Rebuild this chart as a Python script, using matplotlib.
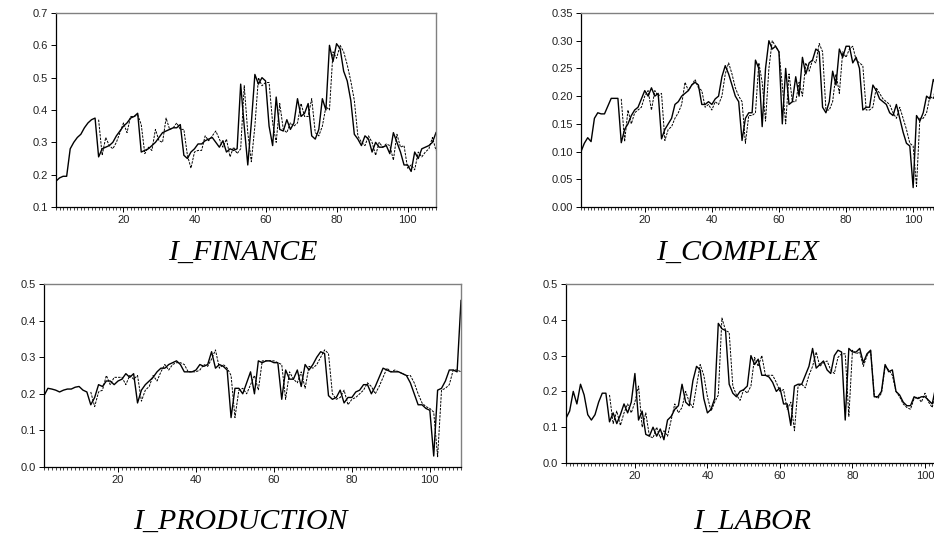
import numpy as np
import matplotlib
matplotlib.use("Agg")
from matplotlib import pyplot as plt
from matplotlib.ticker import MultipleLocator, FormatStrFormatter

plt.rcParams['font.family'] = ['Liberation Sans', 'DejaVu Sans']

nan = float("nan")
obs = list(range(1, 109))

# I_FINANCE
fin_actual = [0.18, 0.19, 0.195, 0.195, 0.28, 0.30, 0.315, 0.325, 0.345, 0.36, 0.37, 0.375,
              0.255, 0.28, 0.285, 0.29, 0.30, 0.32, 0.335, 0.35, 0.36, 0.375, 0.38, 0.39,
              0.27, 0.275, 0.28, 0.29, 0.30, 0.315, 0.33, 0.335, 0.34, 0.345, 0.345, 0.355,
              0.26, 0.25, 0.27, 0.28, 0.295, 0.295, 0.305, 0.31, 0.315, 0.30, 0.285, 0.305,
              0.27, 0.28, 0.275, 0.28, 0.48, 0.35, 0.23, 0.36, 0.51, 0.48, 0.50, 0.49,
              0.35, 0.29, 0.44, 0.34, 0.335, 0.37, 0.34, 0.36, 0.435, 0.38, 0.39, 0.42,
              0.32, 0.31, 0.34, 0.435, 0.40, 0.60, 0.55, 0.605, 0.59, 0.52, 0.49, 0.43,
              0.325, 0.31, 0.29, 0.32, 0.31, 0.27, 0.30, 0.285, 0.285, 0.29, 0.265, 0.33,
              0.30, 0.27, 0.23, 0.23, 0.21, 0.27, 0.25, 0.28, 0.285, 0.29, 0.30, 0.33]
fin_fitted = [nan] * 12 + [
              0.37, 0.26, 0.315, 0.29, 0.28, 0.30, 0.33, 0.36, 0.33, 0.38, 0.38, 0.385,
              0.355, 0.265, 0.285, 0.275, 0.34, 0.305, 0.30, 0.375, 0.34, 0.345, 0.36, 0.34,
              0.34, 0.26, 0.22, 0.27, 0.275, 0.275, 0.32, 0.305, 0.32, 0.335, 0.31, 0.285,
              0.31, 0.255, 0.285, 0.265, 0.28, 0.475, 0.33, 0.24, 0.35, 0.50, 0.475, 0.485,
              0.485, 0.36, 0.30, 0.42, 0.34, 0.33, 0.36, 0.35, 0.36, 0.42, 0.38, 0.38,
              0.435, 0.33, 0.32, 0.35, 0.41, 0.40, 0.58, 0.56, 0.60, 0.58, 0.54, 0.49,
              0.43, 0.32, 0.30, 0.29, 0.32, 0.30, 0.26, 0.30, 0.285, 0.295, 0.29, 0.245,
              0.325, 0.285, 0.29, 0.22, 0.23, 0.215, 0.27, 0.255, 0.27, 0.28, 0.315, 0.275]

# I_COMPLEX
com_actual = [0.10, 0.115, 0.125, 0.118, 0.16, 0.17, 0.168, 0.168, 0.182, 0.196, 0.196, 0.196,
              0.116, 0.14, 0.15, 0.165, 0.175, 0.18, 0.195, 0.21, 0.20, 0.215, 0.20, 0.205,
              0.123, 0.14, 0.15, 0.16, 0.185, 0.19, 0.20, 0.205, 0.21, 0.22, 0.225, 0.22,
              0.185, 0.185, 0.19, 0.185, 0.195, 0.20, 0.235, 0.255, 0.24, 0.22, 0.20, 0.19,
              0.12, 0.16, 0.17, 0.17, 0.265, 0.25, 0.145, 0.25, 0.30, 0.285, 0.29, 0.28,
              0.15, 0.25, 0.185, 0.19, 0.235, 0.20, 0.27, 0.24, 0.26, 0.265, 0.285, 0.28,
              0.18, 0.17, 0.19, 0.245, 0.22, 0.285, 0.27, 0.29, 0.29, 0.26, 0.27, 0.25,
              0.175, 0.18, 0.18, 0.22, 0.21, 0.195, 0.19, 0.185, 0.17, 0.165, 0.185, 0.16,
              0.135, 0.115, 0.11, 0.035, 0.165, 0.155, 0.17, 0.20, 0.195, 0.23, 0.22, 0.24]
com_fitted = [nan] * 12 + [
              0.195, 0.118, 0.175, 0.15, 0.17, 0.175, 0.18, 0.20, 0.21, 0.175, 0.21, 0.20,
              0.205, 0.12, 0.14, 0.145, 0.16, 0.17, 0.185, 0.225, 0.21, 0.22, 0.23, 0.215,
              0.21, 0.18, 0.185, 0.175, 0.19, 0.185, 0.20, 0.24, 0.26, 0.24, 0.215, 0.20,
              0.19, 0.115, 0.165, 0.165, 0.17, 0.26, 0.225, 0.155, 0.25, 0.30, 0.29, 0.28,
              0.22, 0.15, 0.24, 0.19, 0.19, 0.225, 0.20, 0.26, 0.245, 0.265, 0.26, 0.295,
              0.28, 0.175, 0.175, 0.19, 0.24, 0.205, 0.28, 0.27, 0.285, 0.29, 0.265, 0.26,
              0.255, 0.175, 0.175, 0.18, 0.215, 0.205, 0.195, 0.19, 0.185, 0.17, 0.16, 0.18,
              0.16, 0.14, 0.115, 0.11, 0.037, 0.16, 0.16, 0.17, 0.20, 0.195, 0.225, 0.22]

# I_PRODUCTION
pro_actual = [0.195, 0.215, 0.213, 0.21, 0.205, 0.21, 0.213, 0.213, 0.218, 0.22, 0.21, 0.205,
              0.17, 0.19, 0.225, 0.22, 0.235, 0.235, 0.225, 0.235, 0.24, 0.255, 0.245, 0.255,
              0.175, 0.21, 0.225, 0.235, 0.245, 0.26, 0.27, 0.27, 0.28, 0.285, 0.29, 0.28,
              0.26, 0.26, 0.26, 0.265, 0.28, 0.275, 0.28, 0.315, 0.27, 0.28, 0.275, 0.265,
              0.135, 0.215, 0.215, 0.20, 0.23, 0.26, 0.20, 0.29, 0.285, 0.29, 0.29, 0.285,
              0.285, 0.185, 0.265, 0.24, 0.24, 0.265, 0.22, 0.28, 0.265, 0.28, 0.30, 0.315,
              0.31, 0.195, 0.185, 0.19, 0.21, 0.175, 0.19, 0.19, 0.205, 0.21, 0.225, 0.225,
              0.20, 0.22, 0.245, 0.27, 0.265, 0.26, 0.26, 0.26, 0.255, 0.25, 0.23, 0.20,
              0.17, 0.17, 0.16, 0.155, 0.03, 0.21, 0.215, 0.235, 0.265, 0.265, 0.26, 0.455]
pro_fitted = [nan] * 12 + [
              0.205, 0.165, 0.205, 0.21, 0.25, 0.225, 0.245, 0.245, 0.245, 0.225, 0.25, 0.24,
              0.25, 0.18, 0.21, 0.22, 0.25, 0.235, 0.26, 0.28, 0.265, 0.28, 0.285, 0.285,
              0.28, 0.26, 0.26, 0.26, 0.265, 0.28, 0.275, 0.295, 0.32, 0.27, 0.28, 0.27,
              0.25, 0.135, 0.21, 0.215, 0.20, 0.225, 0.25, 0.21, 0.29, 0.29, 0.29, 0.29,
              0.285, 0.28, 0.185, 0.26, 0.24, 0.23, 0.26, 0.215, 0.275, 0.27, 0.28, 0.30,
              0.32, 0.31, 0.20, 0.185, 0.19, 0.21, 0.17, 0.185, 0.19, 0.20, 0.21, 0.23,
              0.22, 0.20, 0.22, 0.245, 0.27, 0.26, 0.265, 0.26, 0.255, 0.25, 0.25, 0.23,
              0.20, 0.175, 0.165, 0.16, 0.15, 0.028, 0.21, 0.215, 0.225, 0.265, 0.265, 0.26]

# I_LABOR
lab_actual = [0.125, 0.145, 0.20, 0.165, 0.22, 0.19, 0.135, 0.12, 0.135, 0.17, 0.195, 0.195,
              0.115, 0.14, 0.11, 0.135, 0.165, 0.14, 0.17, 0.25, 0.12, 0.145, 0.08, 0.075,
              0.10, 0.075, 0.095, 0.065, 0.12, 0.13, 0.15, 0.16, 0.22, 0.17, 0.16, 0.23,
              0.27, 0.26, 0.18, 0.14, 0.15, 0.18, 0.39, 0.375, 0.37, 0.22, 0.195, 0.185,
              0.20, 0.205, 0.215, 0.30, 0.275, 0.29, 0.245, 0.245, 0.24, 0.225, 0.20, 0.21,
              0.165, 0.165, 0.105, 0.215, 0.22, 0.22, 0.245, 0.27, 0.32, 0.265, 0.275, 0.285,
              0.26, 0.25, 0.30, 0.315, 0.31, 0.12, 0.32, 0.31, 0.31, 0.32, 0.28, 0.305,
              0.315, 0.185, 0.185, 0.20, 0.275, 0.255, 0.26, 0.20, 0.19, 0.17, 0.16, 0.16,
              0.185, 0.18, 0.185, 0.185, 0.175, 0.165, 0.215, 0.225, 0.245, 0.22, 0.24, 0.25]
lab_fitted = [nan] * 12 + [
              0.19, 0.11, 0.145, 0.105, 0.14, 0.165, 0.14, 0.17, 0.215, 0.10, 0.14, 0.075,
              0.07, 0.10, 0.07, 0.09, 0.075, 0.12, 0.165, 0.14, 0.155, 0.20, 0.17, 0.155,
              0.215, 0.275, 0.245, 0.185, 0.145, 0.17, 0.19, 0.405, 0.37, 0.365, 0.215, 0.19,
              0.175, 0.205, 0.195, 0.215, 0.295, 0.27, 0.30, 0.245, 0.245, 0.245, 0.225, 0.20,
              0.205, 0.15, 0.17, 0.09, 0.215, 0.22, 0.21, 0.245, 0.27, 0.31, 0.27, 0.28,
              0.285, 0.26, 0.25, 0.295, 0.305, 0.305, 0.13, 0.315, 0.305, 0.31, 0.27, 0.30,
              0.315, 0.19, 0.18, 0.195, 0.27, 0.26, 0.245, 0.20, 0.185, 0.165, 0.155, 0.15,
              0.18, 0.185, 0.17, 0.195, 0.17, 0.155, 0.205, 0.225, 0.215, 0.235, 0.24, 0.25]

W, H = 934, 538
fig = plt.figure(figsize=(W / 100, H / 100), dpi=100)


def px(x0, y0, x1, y1):
    return [x0 / W, 1 - y1 / H, (x1 - x0) / W, (y1 - y0) / H]


panels = [
    ("I_FINANCE", fin_actual, fin_fitted, px(56, 13, 436, 207), (0.1, 0.7), 0.1, "%.1f", (243, 253)),
    ("I_COMPLEX", com_actual, com_fitted, px(581, 13, 940, 207), (0.0, 0.35), 0.05, "%.2f", (737, 253)),
    ("I_PRODUCTION", pro_actual, pro_fitted, px(44, 284, 461, 467), (0.0, 0.5), 0.1, "%.1f", (240, 522)),
    ("I_LABOR", lab_actual, lab_fitted, px(566, 284, 954, 463), (0.0, 0.5), 0.1, "%.1f", (752, 522)),
]

for name, actual, fitted, rect, ylim, ystep, fmt, tpos in panels:
    ax = fig.add_axes(rect)
    ax.plot(obs, actual, color="black", linewidth=1.0)
    ax.plot(obs, fitted, color="black", linewidth=0.7, linestyle=(0, (2.5, 1.2)))
    ax.set_xlim(1, 108)
    ax.set_ylim(*ylim)
    ax.xaxis.set_major_locator(MultipleLocator(20))
    ax.xaxis.set_minor_locator(MultipleLocator(1))
    ax.yaxis.set_major_locator(MultipleLocator(ystep))
    ax.yaxis.set_major_formatter(FormatStrFormatter(fmt))
    ax.tick_params(axis="both", which="major", labelsize=8, length=3.5, width=0.7,
                   direction="out", pad=2, labelcolor="#222222")
    ax.tick_params(axis="x", which="minor", length=2, width=0.5, direction="out")
    ax.tick_params(axis="y", which="minor", left=False)
    for s in ["left", "bottom"]:
        ax.spines[s].set_color("black")
        ax.spines[s].set_linewidth(0.9)
    for s in ["top", "right"]:
        ax.spines[s].set_color("#808080")
        ax.spines[s].set_linewidth(1.0)
    fig.text(tpos[0] / W, 1 - tpos[1] / H, name, ha="center", va="center",
             family="Liberation Serif", style="italic", fontsize=21.5)

fig.savefig("out.png", dpi=100)
